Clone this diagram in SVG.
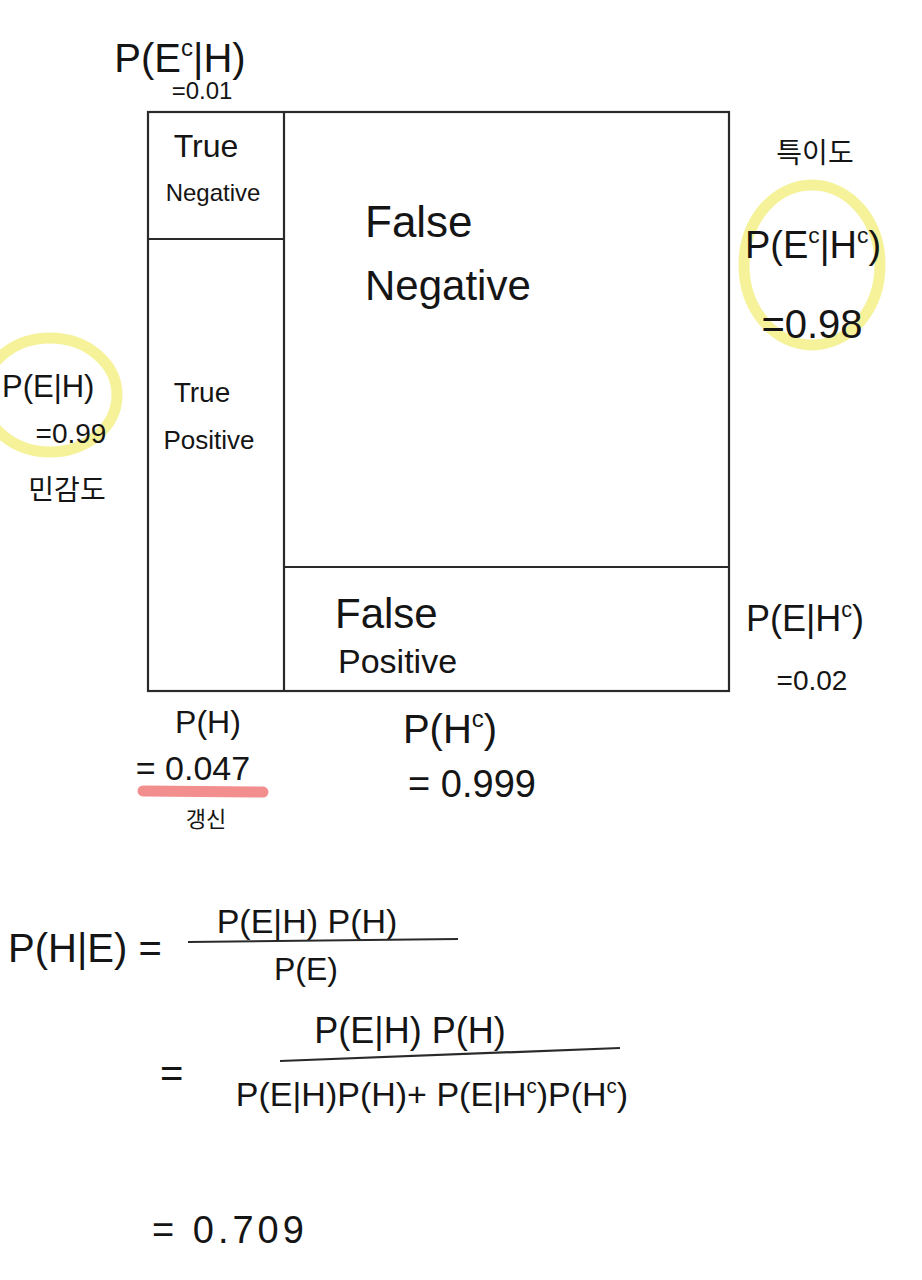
<svg xmlns="http://www.w3.org/2000/svg" width="922" height="1280" viewBox="0 0 922 1280">
<style>
text{font-family:"Liberation Sans","Noto Sans CJK KR",sans-serif;fill:#151515;font-weight:normal}
.m{text-anchor:middle}
.ln{stroke:#2a2a2a;stroke-width:2.2;fill:none}
.hl{stroke:#f5f29a;stroke-width:11;fill:none}
.sup{font-size:60%}
</style>
<rect width="922" height="1280" fill="#ffffff"/>
<g id="highlights">
<ellipse cx="812" cy="265" rx="68" ry="80" class="hl"/>
<ellipse cx="50" cy="395" rx="67" ry="57" class="hl"/>
<line x1="143" y1="791" x2="263" y2="792" stroke="#f28e8e" stroke-width="11" stroke-linecap="round"/>
</g>
<g id="grid">
<rect x="148" y="112" width="581" height="579" class="ln"/>
<line x1="284" y1="112" x2="284" y2="691" class="ln"/>
<line x1="148" y1="239" x2="284" y2="239" class="ln"/>
<line x1="284" y1="567" x2="729" y2="567" class="ln"/>
</g>
<g id="cells">
<g id="true-negative"><text x="206" y="157" class="m" font-size="32">True</text><text x="213" y="201" class="m" font-size="24">Negative</text></g>
<g id="false-negative"><text x="365" y="237" font-size="44">False</text><text x="365" y="300" font-size="42">Negative</text></g>
<g id="true-positive"><text x="202" y="402" class="m" font-size="28">True</text><text x="209" y="449" class="m" font-size="26">Positive</text></g>
<g id="false-positive"><text x="335" y="628" font-size="42">False</text><text x="338" y="673" font-size="34">Positive</text></g>
</g>
<g id="labels">
<g id="p-ec-h"><text x="180" y="72" class="m" font-size="40">P(E<tspan class="sup" dy="-16">c</tspan><tspan dy="16">|H)</tspan></text><text x="202" y="99" class="m" font-size="24">=0.01</text></g>
<g id="spec"><text x="815" y="163" class="m" font-size="28">특이도</text><text x="813" y="258" class="m" font-size="38">P(E<tspan class="sup" dy="-15">c</tspan><tspan dy="15">|H</tspan><tspan class="sup" dy="-15">c</tspan><tspan dy="15">)</tspan></text><text x="812" y="338" class="m" font-size="40">=0.98</text></g>
<g id="sens"><text x="2" y="397" font-size="31">P(E|H)</text><text x="71" y="443" class="m" font-size="28">=0.99</text><text x="67" y="500" class="m" font-size="28">민감도</text></g>
<g id="p-e-hc"><text x="805" y="631" class="m" font-size="36">P(E|H<tspan class="sup" dy="-14">c</tspan><tspan dy="14">)</tspan></text><text x="812" y="690" class="m" font-size="28">=0.02</text></g>
<g id="p-h"><text x="208" y="733" class="m" font-size="32">P(H)</text><text x="193" y="780" class="m" font-size="34">= 0.047</text><text x="206" y="827" class="m" font-size="22">갱신</text></g>
<g id="p-hc"><text x="450" y="743" class="m" font-size="40">P(H<tspan class="sup" dy="-16">c</tspan><tspan dy="16">)</tspan></text><text x="472" y="797" class="m" font-size="38">= 0.999</text></g>
</g>
<g id="formula">
<text x="8" y="962" font-size="40">P(H|E) =</text>
<text x="307" y="933" class="m" font-size="34">P(E|H) P(H)</text>
<line x1="188" y1="942" x2="458" y2="939" class="ln"/>
<text x="306" y="980" class="m" font-size="32">P(E)</text>
<text x="160" y="1087" font-size="40">=</text>
<text x="410" y="1043" class="m" font-size="36">P(E|H) P(H)</text>
<line x1="280" y1="1061" x2="620" y2="1048" class="ln"/>
<text x="432" y="1106" class="m" font-size="34">P(E|H)P(H)+ P(E|H<tspan class="sup" dy="-13">c</tspan><tspan dy="13">)P(H</tspan><tspan class="sup" dy="-13">c</tspan><tspan dy="13">)</tspan></text>
<text x="152" y="1243" font-size="38" letter-spacing="4">= 0.709</text>
</g>
</svg>
